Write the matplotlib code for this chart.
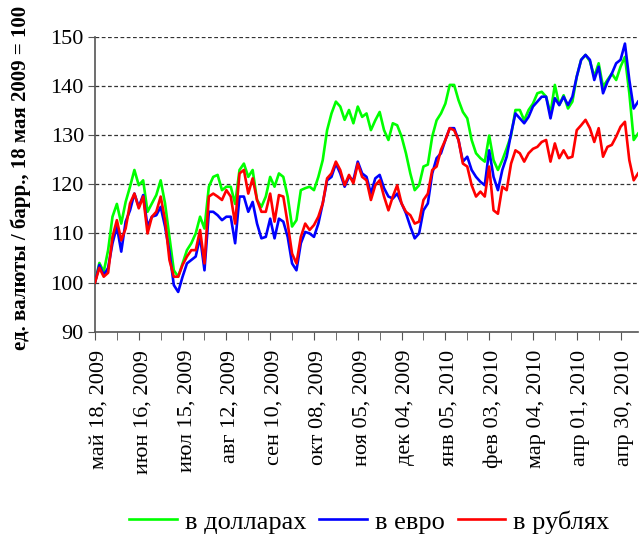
# -*- coding: utf-8 -*-
import numpy as np
import matplotlib
matplotlib.use('Agg')
import matplotlib.pyplot as plt
import matplotlib.transforms as mtransforms

# one sample every 2 trading days, starting on 18 May 2009 (=100)
step = 2
usd = [100, 104, 102.2, 106.6, 113.4, 116, 112, 116.4, 119.5, 122.9,
       119.8, 120.8, 114.4, 116.1, 117.8, 120.8, 116.1, 109.3, 102.5, 101.2,
       103.9, 106.6, 108, 110, 113.4, 111, 119.5, 121.5, 121.9, 118.8,
       119.5, 119.5, 116, 122.9, 124.2, 121.5, 122.9, 116.8, 115.4, 117.5,
       121.5, 119.5, 122.2, 121.5, 117.5, 111.4, 112.7, 118.8, 119.2, 119.5,
       118.8, 121.5, 124.9, 131, 134.4, 136.8, 135.8, 133.1, 135.1, 132.4,
       135.8, 133.7, 134.4, 131, 133, 134.7, 131, 129, 132.4, 132,
       129.7, 126.3, 122.2, 118.8, 119.8, 123.6, 124, 129.7, 133, 134.4,
       136.4, 140.2, 140.2, 137.1, 134.7, 133.4, 129, 126.3, 125.3, 124.6,
       129.9, 124.9, 122.9, 124.9, 127.3, 129.9, 135.1, 135.1, 133, 135.1,
       136.4, 138.5, 138.8, 137.8, 134.4, 140.2, 136.1, 138.1, 135.4, 136.8,
       141.9, 145.3, 146.3, 145, 141.9, 144.6, 139.8, 141.2, 142.5, 141.2,
       143.9, 145.9, 138.5, 129, 130.3]
eur = [100, 103.6, 101.5, 103, 108, 111.4, 106.3, 112.4, 114.7, 118.1,
       115.4, 117.8, 111.4, 113.4, 113.7, 115.4, 111.4, 106.3, 99.5, 98.1,
       101.2, 103.9, 104.6, 105.3, 109.3, 102.5, 114.4, 114.4, 113.7, 112.7,
       113.4, 113.4, 108, 117.5, 117.5, 114.4, 116.4, 112, 109, 109.3,
       113, 109, 113, 112.4, 109.3, 103.9, 102.5, 108, 110.3, 110,
       109.3, 112, 116.1, 120.8, 121.5, 124.2, 122.2, 119.5, 121.5, 120.8,
       124.6, 122.2, 121.5, 118.1, 121.2, 121.9, 119.2, 117.5, 117.1, 118.1,
       116.1, 114.1, 111.4, 109, 110, 114.7, 116.1, 122.2, 125.3, 126.3,
       129, 131.4, 131.4, 129, 124.6, 125.6, 122.9, 121.5, 120.5, 119.8,
       126.9, 121.5, 118.8, 122.9, 125.6, 130.3, 134.4, 133.4, 132.4, 133.7,
       135.8, 136.8, 137.8, 137.8, 133.4, 137.5, 136.1, 137.8, 136.1, 137.8,
       141.9, 145.3, 146.3, 145.3, 141.2, 143.9, 138.5, 140.8, 142.5, 144.6,
       145.3, 148.6, 141.2, 135.4, 136.8]
rub = [100, 103, 101.2, 102, 109.3, 112.7, 108.6, 111, 116.1, 118.1,
       115.1, 117.5, 110, 113.4, 114.4, 117.5, 112.7, 104.6, 101.2, 101.2,
       103.6, 105.3, 106.6, 106.6, 110.7, 103.9, 117.5, 118.1, 117.5, 116.8,
       118.8, 117.5, 112, 122.2, 122.9, 118.1, 121.2, 116.8, 114.4, 114.4,
       118.1, 112.4, 117.8, 117.5, 112, 105.9, 103.9, 109.3, 112, 110.7,
       111.7, 113.4, 116.1, 121.2, 122.2, 124.6, 122.9, 119.8, 121.9, 120.2,
       124.2, 121.5, 120.8, 116.8, 119.8, 120.8, 117.5, 114.7, 117.5, 119.8,
       116.1, 114.4, 113.7, 112, 112.4, 116.8, 118.1, 122.9, 123.6, 127,
       129, 131.4, 131, 129, 124.2, 123.6, 119.8, 117.5, 118.5, 117.5,
       123.6, 114.7, 114, 119.5, 118.8, 124.2, 126.9, 126.3, 124.6, 126.3,
       127.2, 127.6, 128.6, 129, 124.6, 128.3, 125.3, 126.9, 125.3, 125.6,
       131, 132, 133.1, 131.4, 128.6, 131.4, 125.6, 127.6, 128, 129.7,
       131.7, 132.7, 124.9, 120.8, 122.2]

tick_labels = ['май 18, 2009', 'июн 16, 2009', 'июл 15, 2009', 'авг 12, 2009',
               'сен 10, 2009', 'окт 08, 2009', 'ноя 05, 2009', 'дек 04, 2009',
               'янв 05, 2010', 'фев 03, 2010', 'мар 04, 2010', 'апр 01, 2010',
               'апр 30, 2010']
label_every = 20

plt.rcParams['font.family'] = ['Liberation Serif', 'DejaVu Serif']

fig = plt.figure(figsize=(6.4, 5.36), dpi=100)
ax = fig.add_axes([0.1484, 0.381, 0.8486, 0.5505])

x = np.arange(len(usd)) * step
ax.plot(x, usd, color='#00ff00', lw=1.9, label='в долларах', zorder=3)
ax.plot(x, eur, color='#0000ff', lw=1.9, label='в евро', zorder=4)
ax.plot(x, rub, color='#ff0000', lw=1.9, label='в рублях', zorder=5)

ax.set_xlim(0, x[-1])
ax.set_ylim(90, 150)
ax.set_yticks(np.arange(90, 151, 10))
ax.set_xticks(np.arange(len(tick_labels)) * label_every)
ax.set_xticklabels(tick_labels, rotation=90, fontsize=16)
ax.set_xticks(np.arange(0, x[-1], label_every / 2), minor=True)
ax.tick_params(axis='y', labelsize=16, direction='out', length=5, pad=3,
               color='#555555')
ax.tick_params(axis='x', which='both', direction='out', length=6, pad=7,
               color='#555555')
# excel puts the rotated labels a little right of the tick
shift = mtransforms.ScaledTranslation(4 / 100, 0, fig.dpi_scale_trans)
for lbl in ax.get_xticklabels():
    lbl.set_transform(lbl.get_transform() + shift)

for v in range(100, 151, 10):
    ax.axhline(v, color='#333333', lw=0.9, ls=(0, (3, 2)), zorder=1)

for s in ['top', 'right']:
    ax.spines[s].set_visible(False)
for s in ['left', 'bottom']:
    ax.spines[s].set_color('#555555')
    ax.spines[s].set_linewidth(1.2)

ax.set_ylabel('ед. валюты / барр., 18 мая 2009 = 100', fontsize=15,
              fontweight='bold')
ax.yaxis.set_label_coords(-0.118, 0.52)

fig.legend(loc='lower center', bbox_to_anchor=(0.577, -0.04), ncol=3,
           frameon=False, fontsize=19, handlelength=1.8, handletextpad=0.3,
           columnspacing=0.5)

fig.savefig('out.png', dpi=100)
